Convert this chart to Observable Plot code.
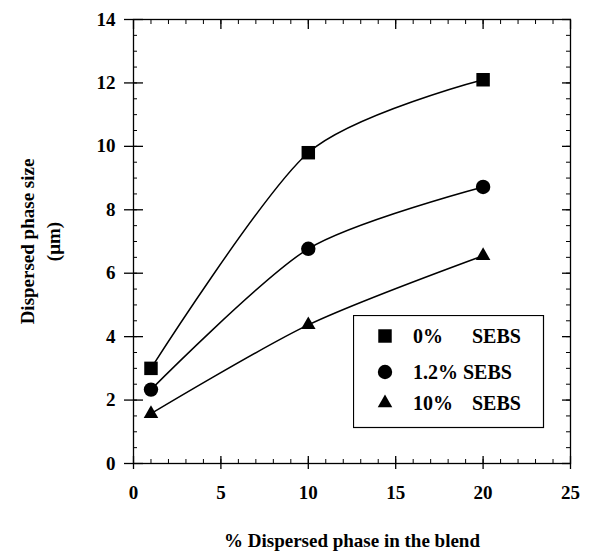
<!DOCTYPE html>
<html><head><meta charset="utf-8">
<script src="https://cdn.jsdelivr.net/npm/d3@7"></script>
<script src="https://cdn.jsdelivr.net/npm/@observablehq/plot@0.6"></script>
<style>
body{margin:0;background:#fff;}
#wrap{position:relative;width:590px;height:559px;font-family:"Liberation Serif","Times New Roman",serif;font-weight:bold;}
#legend{position:absolute;left:353px;top:315px;}
</style></head>
<body><div id="wrap"></div>
<script>
const xValues = [1, 10, 20];
const seriesNames = ["0%", "1.2%", "10%"];
const seriesSuffix = "SEBS";
const sebs0 = [3.0, 9.8, 12.1];
const sebs12 = [2.33, 6.77, 8.72];
const sebs10 = [1.57, 4.37, 6.55];
const symbols = ["square", "circle", "triangle"];
const xMajor = [0, 5, 10, 15, 20, 25];
const xMinor = d3.range(0, 26, 1);
const yMajor = [0, 2, 4, 6, 8, 10, 12, 14];
const yMinor = d3.range(0, 14.01, 0.5);
const xTitle = "% Dispersed phase in the blend";
const yTitle = "Dispersed phase size\n(\u03bcm)";

const allSeries = [sebs0, sebs12, sebs10];
const data = [];
allSeries.forEach((vals, i) => vals.forEach((v, j) => data.push({x: xValues[j], y: v, series: seriesNames[i]})));

const rSizes = {"0%": 7.6, "1.2%": 7.2, "10%": 5.4};
const blank = () => "";
const FONT = '"Liberation Serif","Times New Roman",serif';

const chart = Plot.plot({
  width: 590, height: 559,
  marginLeft: 133, marginRight: 20, marginTop: 19, marginBottom: 96,
  x: {domain: [0, 25]},
  y: {domain: [0, 14]},
  style: {fontFamily: FONT, fontWeight: "bold", fontSize: "18px", color: "#000", background: "#fff"},
  marks: [
    Plot.frame({stroke: "#000", strokeWidth: 1.3}),
    // bottom
    Plot.axisX({anchor: "bottom", ticks: xMajor, tickSize: 6, tickPadding: 16, label: null, strokeWidth: 1.3, fontSize: 19, fontWeight: "bold", fontFamily: FONT}),
    Plot.axisX({anchor: "bottom", ticks: xMajor, tickSize: 7, dy: -7, tickFormat: blank, label: null, strokeWidth: 1.3}),
    Plot.axisX({anchor: "bottom", ticks: xMinor, tickSize: 4, dy: -4, tickFormat: blank, label: null}),
    // top
    Plot.axisX({anchor: "top", ticks: xMajor, tickSize: 9, dy: 9, tickFormat: blank, label: null, strokeWidth: 1.3}),
    Plot.axisX({anchor: "top", ticks: xMinor, tickSize: 4, dy: 4, tickFormat: blank, label: null}),
    // left
    Plot.axisY({anchor: "left", ticks: yMajor, tickSize: 9, tickPadding: 9, label: null, strokeWidth: 1.3, fontSize: 19, fontWeight: "bold", fontFamily: FONT}),
    Plot.axisY({anchor: "left", ticks: yMajor, tickSize: 10, dx: 10, tickFormat: blank, label: null, strokeWidth: 1.3}),
    Plot.axisY({anchor: "left", ticks: yMinor, tickSize: 4, dx: 4, tickFormat: blank, label: null}),
    // right
    Plot.axisY({anchor: "right", ticks: yMajor, tickSize: 9, dx: -9, tickFormat: blank, label: null, strokeWidth: 1.3}),
    Plot.axisY({anchor: "right", ticks: yMinor, tickSize: 5, dx: -5, tickFormat: blank, label: null}),
    // titles
    Plot.text([xTitle], {frameAnchor: "bottom", dy: 83, text: d => d, fontSize: 19, fontWeight: "bold", fontFamily: FONT}),
    Plot.text([yTitle], {frameAnchor: "left", textAnchor: "middle", dx: -95, rotate: -90, text: d => d, fontSize: 19, fontWeight: "bold", fontFamily: FONT, lineHeight: 1.37}),
    // data
    Plot.line(data, {x: "x", y: "y", z: "series", curve: d3.curveCardinal.tension(0.2), stroke: "#000", strokeWidth: 1.5}),
    ...seriesNames.map((s, i) => Plot.dot(data.filter(d => d.series === s), {x: "x", y: "y", symbol: symbols[i], fill: "#000", stroke: "none", r: rSizes[s]}))
  ]
});

const wrap = document.getElementById("wrap");
wrap.appendChild(chart);

// legend
const lg = d3.select(wrap).append("svg").attr("id", "legend").attr("width", 192).attr("height", 114);
lg.append("rect").attr("x", 0.5).attr("y", 0.5).attr("width", 190).attr("height", 112).attr("fill", "#fff").attr("stroke", "#000").attr("stroke-width", 1.2);
const rowY = [21, 57, 88];
const suffixX = [119, 110, 119];
const symMap = {square: d3.symbolSquare, circle: d3.symbolCircle, triangle: d3.symbolTriangle};
seriesNames.forEach((s, i) => {
  const r = rSizes[s];
  lg.append("path").attr("transform", `translate(32,${rowY[i]})`).attr("d", d3.symbol(symMap[symbols[i]], Math.PI * r * r)()).attr("fill", "#000");
  lg.append("text").attr("x", 60).attr("y", rowY[i] + 7).attr("font-size", 20).attr("font-weight", "bold").attr("font-family", FONT).text(s);
  lg.append("text").attr("x", suffixX[i]).attr("y", rowY[i] + 7).attr("font-size", 20).attr("font-weight", "bold").attr("font-family", FONT).text(seriesSuffix);
});
</script></body></html>
